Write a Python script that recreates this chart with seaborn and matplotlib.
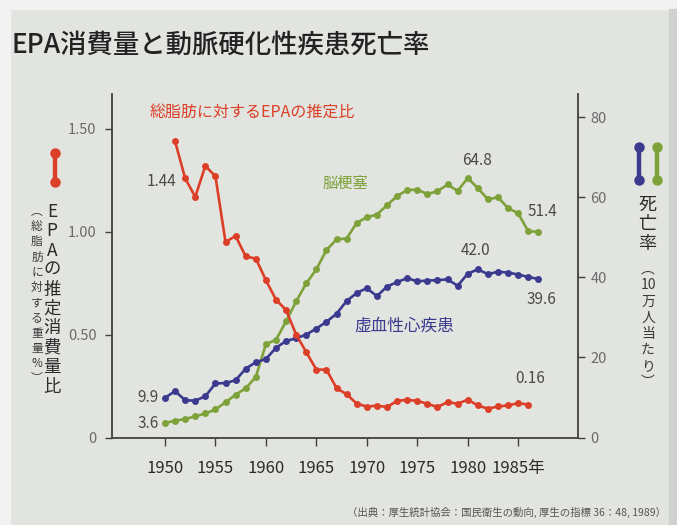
import numpy as np
import pandas as pd
import matplotlib
matplotlib.use("Agg")
import matplotlib.pyplot as plt
from matplotlib.lines import Line2D
import seaborn as sns

# --- data -----------------------------------------------------------------
# EPA share of total fat intake (left axis), 1951-1986
epa_years = list(range(1951, 1987))
epa_ratio = [1.44, 1.26, 1.17, 1.32, 1.27, 0.95, 0.98, 0.88, 0.87, 0.765,
             0.67, 0.62, 0.50, 0.415, 0.33, 0.33, 0.24, 0.21, 0.165, 0.15,
             0.155, 0.148, 0.178, 0.183, 0.178, 0.164, 0.148, 0.172, 0.164, 0.184,
             0.156, 0.14, 0.151, 0.156, 0.167, 0.16]

# Mortality per 100,000 (right axis), 1950-1987
mort_years = list(range(1950, 1988))
ischemic = [9.9, 11.6, 9.3, 9.2, 10.3, 13.5, 13.6, 14.3, 17.2, 18.8,
            19.6, 22.4, 24.1, 24.8, 25.7, 27.2, 28.9, 30.9, 34.1, 36.1,
            37.3, 35.3, 37.7, 38.8, 39.8, 39.0, 39.2, 39.3, 39.5, 37.9,
            40.9, 42.0, 40.8, 41.4, 41.2, 40.7, 40.1, 39.6]
infarction = [3.6, 4.2, 4.6, 5.3, 6.0, 7.0, 8.8, 10.7, 12.3, 15.1,
              23.3, 24.4, 29.0, 34.0, 38.5, 42.0, 46.8, 49.5, 49.7, 53.6,
              55.0, 55.7, 58.0, 60.3, 61.8, 61.9, 60.8, 61.5, 63.2, 61.6,
              64.8, 62.3, 59.5, 60.0, 57.3, 56.0, 51.5, 51.4]

x_ticks = [1950, 1955, 1960, 1965, 1970, 1975, 1980, 1985]
x_ticklabels = ["1950", "1955", "1960", "1965", "1970", "1975", "1980", "1985年"]
left_ticks = [0, 0.5, 1.0, 1.5]
left_ticklabels = ["0", "0.50", "1.00", "1.50"]
right_ticks = [0, 20, 40, 60, 80]

# --- style ----------------------------------------------------------------
sns.set_style("ticks")
plt.rcParams["font.family"] = ["Noto Sans CJK JP", "DejaVu Sans"]

RED = "#dc3f27"
BLUE = "#3b3a8e"
GREEN = "#7ea23a"
BG = "#e2e4e0"
AXC = "#404040"
TICKC = "#6a6a6a"

W, H = 677, 525
fig = plt.figure(figsize=(W / 100, H / 100), dpi=100, facecolor=BG)


def fx(x):
    return x / W


def fy(y):
    return 1 - y / H


# light frame along the top and left edges, darker band at the right edge
fig.patches.append(plt.Rectangle((0, fy(9)), 1, 9 / H, transform=fig.transFigure,
                                 color="#f2f2f2", zorder=0))
fig.patches.append(plt.Rectangle((0, 0), 10 / W, 1, transform=fig.transFigure,
                                 color="#f2f2f2", zorder=0))
fig.patches.append(plt.Rectangle((fx(669), 0), 8 / W, fy(9), transform=fig.transFigure,
                                 color="#cfd2ce", zorder=0))

ax_left, ax_right, ax_top, ax_bot = 112, 578, 94, 437.5
ax = fig.add_axes([fx(ax_left), fy(ax_bot), (ax_right - ax_left) / W, (ax_bot - ax_top) / H])
ax2 = ax.twinx()
ax.set_zorder(ax2.get_zorder() + 1)
ax.patch.set_visible(False)
ax2.patch.set_visible(False)

line_kw = dict(marker="o", markersize=5, linewidth=1.9, markeredgewidth=0)

df_mort = pd.DataFrame({"year": mort_years, "ischemic": ischemic, "infarction": infarction})
df_epa = pd.DataFrame({"year": epa_years, "epa": epa_ratio})

sns.lineplot(data=df_mort, x="year", y="infarction", ax=ax2, color=GREEN, **line_kw)
sns.lineplot(data=df_mort, x="year", y="ischemic", ax=ax2, color=BLUE, **line_kw)
sns.lineplot(data=df_epa, x="year", y="epa", ax=ax, color=RED, **line_kw)

ax.set_xlim(1944.75, 1990.93)
ax.set_ylim(0, 1.67)
ax2.set_ylim(0, 85.8)

ax.set_xticks(x_ticks)
ax.set_xticklabels(x_ticklabels)
ax.set_yticks(left_ticks)
ax.set_yticklabels(left_ticklabels)
ax2.set_yticks(right_ticks)

for a in (ax, ax2):
    a.set_xlabel("")
    a.set_ylabel("")
    for s in a.spines.values():
        s.set_color(AXC)
        s.set_linewidth(1.3)
    a.spines["top"].set_visible(False)
ax.spines["right"].set_visible(False)
ax2.spines["left"].set_visible(False)
ax2.spines["bottom"].set_visible(False)

ax.tick_params(axis="x", direction="out", length=6, width=1.0, color=AXC,
               labelsize=12, labelcolor="#2a2a2a", pad=10)
ax.tick_params(axis="y", direction="out", length=5, width=1.0, color=AXC,
               labelsize=10.5, labelcolor=TICKC, pad=6)
ax2.tick_params(axis="y", direction="out", length=5, width=1.0, color=AXC,
                labelsize=10.5, labelcolor=TICKC, pad=4)

# --- value labels ---------------------------------------------------------
vk = dict(textcoords="offset pixels", fontsize=11, color="#4a4a4a", va="center")
ax.annotate(f"{epa_ratio[0]:.2f}", (epa_years[0], epa_ratio[0]), xytext=(-14, -40), ha="center", **vk)
ax.annotate(f"{epa_ratio[-1]:.2f}", (epa_years[-1], epa_ratio[-1]), xytext=(2, 26), ha="center", **vk)
ax2.annotate(f"{ischemic[0]:.1f}", (mort_years[0], ischemic[0]), xytext=(-6, 0), ha="right", **vk)
ax2.annotate(f"{infarction[0]:.1f}", (mort_years[0], infarction[0]), xytext=(-6, 0), ha="right", **vk)
i_ip = int(np.argmax(infarction))
ax2.annotate(f"{infarction[i_ip]:.1f}", (mort_years[i_ip], infarction[i_ip]), xytext=(9, 18), ha="center", **vk)
ax2.annotate(f"{infarction[-1]:.1f}", (mort_years[-1], infarction[-1]), xytext=(4, 20), ha="center", **vk)
i_ih = int(np.argmax(ischemic))
ax2.annotate(f"{ischemic[i_ih]:.1f}", (mort_years[i_ih], ischemic[i_ih]), xytext=(-2, 19), ha="center", **vk)
ax2.annotate(f"{ischemic[-1]:.1f}", (mort_years[-1], ischemic[-1]), xytext=(3, -21), ha="center", **vk)

# --- series names ---------------------------------------------------------
fig.text(fx(150), fy(113), "総脂肪に対するEPAの推定比", color=RED, fontsize=11.5, va="center", ha="left")
fig.text(fx(323), fy(183), "脳梗塞", color=GREEN, fontsize=11, va="center", ha="left")
fig.text(fx(354), fy(326), "虚血性心疾患", color=BLUE, fontsize=12, va="center", ha="left")

# --- title ----------------------------------------------------------------
fig.text(fx(12), fy(45), "EPA消費量と動脈硬化性疾患死亡率", fontsize=19, color="#222222",
         fontweight="medium", va="center", ha="left")

# --- axis keys (dumbbell glyphs) and vertical axis titles -----------------
def dumbbell(x, y0, y1, color):
    fig.add_artist(Line2D([fx(x), fx(x)], [fy(y0), fy(y1)], transform=fig.transFigure,
                          color=color, linewidth=3.2, marker="o", markersize=6.5,
                          solid_capstyle="butt"))


dumbbell(55, 153, 182, RED)
dumbbell(639, 147, 180, BLUE)
dumbbell(657, 147, 180, GREEN)


def vtext(x, ytop, s, size, color, spacing):
    lines = s if isinstance(s, list) else list(s)
    fig.text(fx(x), fy(ytop), "\n".join(lines), fontsize=size, color=color,
             ha="center", va="top", linespacing=spacing, multialignment="center")


vtext(52, 203, "EPAの推定消費量比", 12.5, "#2b2b2b", 1.1)
vtext(37, 205, ["︵", "総", "脂", "肪", "に", "対", "す", "る", "重", "量", "%", "︶"], 8.5, "#3a3a3a", 1.22)
vtext(647, 196, "死亡率", 13, "#2b2b2b", 1.1)
vtext(648, 262, ["︵", "10", "万", "人", "当", "た", "り", "︶"], 10, "#3a3a3a", 1.2)

# --- source note -----------------------------------------------------------
fig.text(fx(666), fy(512), "（出典：厚生統計協会：国民衛生の動向, 厚生の指標 36：48, 1989）",
         fontsize=7.5, color="#555555", ha="right", va="center")

fig.savefig("out.png", dpi=100, facecolor=BG)
